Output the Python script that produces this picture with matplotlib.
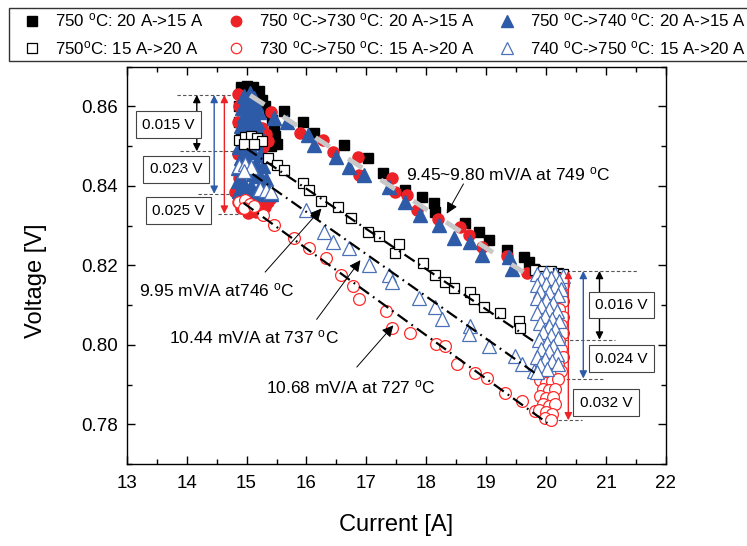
import matplotlib
matplotlib.use('Agg')
import matplotlib.pyplot as plt
from matplotlib.lines import Line2D
from matplotlib.ticker import MultipleLocator, FormatStrFormatter

plt.rcParams['font.family'] = ['Liberation Sans', 'DejaVu Sans']
plt.rcParams['mathtext.fontset'] = 'custom'
plt.rcParams['mathtext.rm'] = 'Liberation Sans'
plt.rcParams['mathtext.it'] = 'Liberation Sans:italic'
plt.rcParams['mathtext.bf'] = 'Liberation Sans:bold'

DEG = r'${}^{\mathrm{o}}$C'

# ---------------- data ----------------
# 750 C: 20 A -> 15 A (filled squares)
blk_fill_I = [14.90, 15.00, 15.10, 15.20, 14.95, 15.05, 15.15, 15.25, 15.30, 15.38, 15.42, 15.45, 15.48, 15.50, 15.40,
              14.88, 14.88, 14.90, 14.92,
              15.62, 15.94, 16.13, 16.63, 17.03, 17.28, 17.64, 17.92, 18.12, 18.15, 18.65, 18.88, 19.05, 19.35,
              19.63, 19.80, 19.72]
blk_fill_V = [0.8648, 0.8652, 0.8650, 0.8640, 0.8630, 0.8635, 0.8625, 0.8615, 0.8600, 0.8585, 0.8565, 0.8545, 0.8525,
              0.8505, 0.8500, 0.8600, 0.8560, 0.8520, 0.8495,
              0.8588, 0.8560, 0.8534, 0.8504, 0.8471, 0.8433, 0.8390, 0.8372, 0.8357, 0.8335, 0.8306, 0.8284, 0.8263,
              0.8238, 0.8222, 0.8192, 0.8208]

# 750 C -> 730 C: 20 A -> 15 A (filled circles)
red_fill_I = [14.85, 14.92, 14.88, 15.25, 15.32, 15.35, 15.28, 14.85, 14.85, 14.88, 14.80, 14.90, 15.00, 15.10, 15.20,
              15.30, 15.40, 14.85, 14.95, 15.05, 15.15, 15.25, 15.35, 14.90, 15.00, 15.10, 15.20, 15.30, 15.02, 15.15,
              15.40, 15.90, 16.27, 16.44, 16.86, 16.88, 17.42, 17.47, 17.67, 17.85, 18.20, 18.56, 18.71, 18.93,
              19.35, 19.68]
red_fill_V = [0.8632, 0.8620, 0.8600, 0.8545, 0.8530, 0.8512, 0.8498, 0.8560, 0.8480, 0.8420, 0.8385, 0.8375, 0.8370,
              0.8372, 0.8368, 0.8372, 0.8370, 0.8360, 0.8355, 0.8358, 0.8352, 0.8356, 0.8360, 0.8345, 0.8342, 0.8340,
              0.8345, 0.8348, 0.8332, 0.8335,
              0.8585, 0.8534, 0.8516, 0.8486, 0.8473, 0.8428, 0.8420, 0.8385, 0.8377, 0.8340, 0.8317, 0.8296, 0.8276,
              0.8246, 0.8223, 0.8182]

# 750 C -> 740 C: 20 A -> 15 A (filled triangles)
blu_fill_I = [15.05, 14.95, 15.12, 15.00, 15.15, 14.92, 15.08, 15.20, 14.95, 15.05, 15.18, 14.90, 15.00, 15.12, 15.22,
              14.92, 15.05, 15.15, 14.88, 15.00, 15.10, 15.22, 14.90, 15.02, 15.15, 15.28, 14.85, 14.98, 15.10, 15.22,
              15.32, 14.85, 14.95, 15.08, 15.20, 15.35, 14.88, 15.00, 15.15, 15.28, 15.40,
              15.45, 15.68, 16.02, 16.12, 16.49, 16.71, 16.96, 17.37, 17.64, 17.89, 18.22, 18.47, 18.73, 18.93,
              19.38, 19.43]
blu_fill_V = [0.8635, 0.8625, 0.8622, 0.8610, 0.8605, 0.8595, 0.8590, 0.8585, 0.8575, 0.8565, 0.8560, 0.8550, 0.8545,
              0.8538, 0.8530, 0.8522, 0.8515, 0.8508, 0.8498, 0.8490, 0.8485, 0.8478, 0.8470, 0.8462, 0.8455, 0.8450,
              0.8445, 0.8438, 0.8430, 0.8425, 0.8418, 0.8412, 0.8405, 0.8400, 0.8395, 0.8392, 0.8388, 0.8382, 0.8380,
              0.8385, 0.8380,
              0.8572, 0.8560, 0.8529, 0.8504, 0.8473, 0.8448, 0.8428, 0.8397, 0.8359, 0.8327, 0.8301, 0.8268, 0.8258,
              0.8225, 0.8222, 0.8192]

# 750 C: 15 A -> 20 A (open squares)
blk_open_I = [14.88, 14.98, 15.08, 15.18, 15.25, 14.95, 15.12,
              15.35, 15.50, 15.62, 15.94, 16.04, 16.24, 16.53, 16.74, 17.03, 17.21, 17.47, 17.55, 17.95, 18.14,
              18.31, 18.47, 18.73, 18.79, 18.96, 19.23, 19.55, 19.56,
              19.82, 19.95, 20.08, 20.20, 20.28, 19.90, 20.15]
blk_open_V = [0.8515, 0.8522, 0.8525, 0.8520, 0.8512, 0.8505, 0.8505,
              0.8471, 0.8452, 0.8440, 0.8408, 0.8390, 0.8362, 0.8347, 0.8319, 0.8284, 0.8274, 0.8232, 0.8254, 0.8205,
              0.8175, 0.8157, 0.8142, 0.8132, 0.8116, 0.8094, 0.8081, 0.8061, 0.8043,
              0.8188, 0.8185, 0.8186, 0.8182, 0.8178, 0.8172, 0.8170]

# 730 C -> 750 C: 15 A -> 20 A (open circles)
red_open_I = [14.88, 14.98, 15.05, 14.95, 15.12,
              15.28, 15.45, 15.79, 16.04, 16.32, 16.58, 16.78, 16.88, 17.33, 17.42, 17.72, 18.17, 18.31, 18.51,
              18.81, 19.01, 19.31, 19.60, 19.82,
              20.22, 20.28, 20.25, 20.28, 20.22, 20.28, 20.25, 20.28, 20.22, 20.25, 20.28, 20.20,
              19.95, 20.05, 20.15, 20.25, 19.90, 20.00, 20.10, 20.20, 19.95, 20.05, 20.15, 19.90, 20.00, 20.12,
              19.95, 20.05, 20.15, 19.88, 20.00, 20.10, 19.98, 20.08]
red_open_V = [0.8360, 0.8365, 0.8355, 0.8345, 0.8350,
              0.8327, 0.8301, 0.8268, 0.8243, 0.8218, 0.8175, 0.8149, 0.8116, 0.8086, 0.8043, 0.8030, 0.8003, 0.7997,
              0.7952, 0.7929, 0.7916, 0.7878, 0.7858, 0.7833,
              0.8165, 0.8150, 0.8130, 0.8110, 0.8090, 0.8070, 0.8050, 0.8030, 0.8010, 0.7990, 0.7970, 0.7950,
              0.7930, 0.7925, 0.7930, 0.7935, 0.7912, 0.7905, 0.7910, 0.7915, 0.7890, 0.7885, 0.7890, 0.7870,
              0.7865, 0.7868, 0.7850, 0.7845, 0.7850, 0.7835, 0.7830, 0.7825, 0.7815, 0.7812]

# 740 C -> 750 C: 15 A -> 20 A (open triangles)
blu_open_I = [14.88, 14.98, 15.08, 14.95, 15.22, 15.32, 15.40,
              15.99, 16.29, 16.44, 16.71, 17.05, 17.37, 17.42, 17.87, 18.14, 18.26, 18.73, 18.71, 19.05, 19.48,
              19.60, 19.80,
              19.85, 20.00, 20.15, 20.28, 19.92, 20.08, 20.22, 19.85, 20.00, 20.15, 20.25, 19.90, 20.05, 20.20,
              19.85, 20.00, 20.12, 19.92, 20.05, 20.18, 19.85, 19.98, 20.10, 20.22, 19.90, 20.05, 20.15, 19.95,
              20.08, 20.20, 19.88, 20.02, 20.12, 19.92, 20.05, 20.18, 19.85, 19.98, 20.10, 20.20, 19.90, 20.02,
              19.85]
blu_open_V = [0.8450, 0.8455, 0.8448, 0.8438, 0.8392, 0.8390, 0.8385,
              0.8339, 0.8284, 0.8258, 0.8243, 0.8200, 0.8175, 0.8157, 0.8119, 0.8094, 0.8066, 0.8048, 0.8028, 0.7997,
              0.7972, 0.7952, 0.7934,
              0.8178, 0.8180, 0.8178, 0.8172, 0.8165, 0.8168, 0.8160, 0.8150, 0.8152, 0.8148, 0.8140, 0.8135,
              0.8132, 0.8125, 0.8118, 0.8112, 0.8105, 0.8098, 0.8090, 0.8085, 0.8080, 0.8072, 0.8065, 0.8060,
              0.8055, 0.8048, 0.8040, 0.8032, 0.8025, 0.8018, 0.8012, 0.8005, 0.7998, 0.7990, 0.7985, 0.7978,
              0.7970, 0.7965, 0.7958, 0.7952, 0.7948, 0.7940, 0.7932]

# linear fits (end points)
fit_fill_I = [15.06, 19.62]
fit_fill_V = [0.8628, 0.8183]
fit_sq_I = [15.00, 19.85]
fit_sq_V = [0.8494, 0.8003]
fit_tri_I = [15.10, 19.85]
fit_tri_V = [0.8430, 0.7925]
fit_cir_I = [14.95, 20.02]
fit_cir_V = [0.8357, 0.7803]

x_ticks = [13, 14, 15, 16, 17, 18, 19, 20, 21, 22]
y_ticks = [0.78, 0.80, 0.82, 0.84, 0.86]

legend_labels = [
    '750 ' + DEG + ': 20 A->15 A',
    '750' + DEG + ': 15 A->20 A',
    '750 ' + DEG + '->730 ' + DEG + ': 20 A->15 A',
    '730 ' + DEG + '->750 ' + DEG + ': 15 A->20 A',
    '750 ' + DEG + '->740 ' + DEG + ': 20 A->15 A',
    '740 ' + DEG + '->750 ' + DEG + ': 15 A->20 A',
]

# ---------------- colours / styles ----------------
C_RED = '#ec2227'
C_BLUE = '#2d5ba8'
C_BLUE_O = '#4a70b8'
C_RED_O = '#ff2a2a'

W, H = 747, 546
fig = plt.figure(figsize=(W / 100, H / 100), dpi=100)
ax = fig.add_axes([126.7 / W, 1 - 464 / H, (666 - 126.7) / W, (464 - 66.7) / H])

ms_sq, ms_ci, ms_tr = 7.2, 8.0, 9.5
ax.plot(blk_fill_I, blk_fill_V, 's', color='black', ms=ms_sq, mec='black', zorder=3)
ax.plot(red_fill_I, red_fill_V, 'o', color=C_RED, ms=ms_ci, mec=C_RED, zorder=3)
ax.plot(blu_fill_I, blu_fill_V, '^', color=C_BLUE, ms=ms_tr, mec=C_BLUE, zorder=3)
ax.plot(blk_open_I, blk_open_V, 's', mfc='white', mec='black', mew=0.9, ms=ms_sq, zorder=4)
ax.plot(red_open_I, red_open_V, 'o', mfc='white', mec=C_RED_O, mew=0.9, ms=ms_ci + 0.5, zorder=4)
ax.plot(blu_open_I, blu_open_V, '^', mfc='white', mec=C_BLUE_O, mew=0.9, ms=ms_tr, zorder=5)

# fit lines
ax.plot(fit_fill_I, fit_fill_V, color='#c8c8c8', lw=3.5, linestyle=(0, (3.5, 4.5)),
        solid_capstyle='butt', zorder=6)
dd = (0, (5.5, 2.2, 0.8, 2.2))
for fi, fv in [(fit_sq_I, fit_sq_V), (fit_tri_I, fit_tri_V), (fit_cir_I, fit_cir_V)]:
    ax.plot(fi, fv, color='black', lw=1.6, linestyle=dd, zorder=6)

# axes
ax.set_xlim(13, 22)
ax.set_ylim(0.77, 0.87)
ax.set_xticks(x_ticks)
ax.set_yticks(y_ticks)
ax.yaxis.set_major_formatter(FormatStrFormatter('%.2f'))
ax.xaxis.set_minor_locator(MultipleLocator(0.5))
ax.yaxis.set_minor_locator(MultipleLocator(0.01))
ax.tick_params(which='both', direction='in', top=True, right=True, width=1.0, labelsize=13.5)
ax.tick_params(axis='x', pad=8)
ax.tick_params(axis='y', pad=6)
ax.tick_params(which='major', length=6)
ax.tick_params(which='minor', length=3.5)
for s in ax.spines.values():
    s.set_linewidth(1.0)
ax.set_xlabel('Current [A]', fontsize=17, labelpad=16)
ax.set_ylabel('Voltage [V]', fontsize=17)
ax.yaxis.set_label_coords(-0.147, 0.46)

# reference dashed levels + double arrows (left)
dash_kw = dict(color='#555555', lw=0.8, linestyle=(0, (3, 2)), zorder=2)
ax.plot([13.84, 14.85], [0.8629, 0.8629], **dash_kw)
ax.plot([13.89, 14.85], [0.8487, 0.8487], **dash_kw)
ax.plot([14.19, 14.85], [0.8380, 0.8380], **dash_kw)
ax.plot([14.53, 14.85], [0.8330, 0.8330], **dash_kw)


def darrow(x, y0, y1, color):
    ax.annotate('', xy=(x, y1), xytext=(x, y0),
                arrowprops=dict(arrowstyle='<|-|>', color=color, lw=1.0, mutation_scale=11,
                                shrinkA=0, shrinkB=0), zorder=7)


darrow(14.17, 0.8629, 0.8487, 'black')
darrow(14.46, 0.8629, 0.8380, C_BLUE)
darrow(14.63, 0.8629, 0.8330, C_RED)

# right side
ax.plot([19.78, 21.54], [0.8186, 0.8186], **dash_kw)
ax.plot([20.29, 21.15], [0.8013, 0.8013], **dash_kw)
ax.plot([19.96, 20.98], [0.7915, 0.7915], **dash_kw)
ax.plot([20.01, 20.60], [0.7810, 0.7810], **dash_kw)
darrow(20.37, 0.8186, 0.7810, C_RED)
darrow(20.62, 0.8186, 0.7915, C_BLUE)
darrow(20.89, 0.8186, 0.8013, 'black')

box_kw = dict(boxstyle='square,pad=0.42', fc='white', ec='#444444', lw=0.8)
for tx, ty, s in [(13.70, 0.8554, '0.015 V'), (13.82, 0.8442, '0.023 V'), (13.86, 0.8338, '0.025 V'),
                  (21.26, 0.8100, '0.016 V'), (21.26, 0.7965, '0.024 V'), (21.00, 0.7854, '0.032 V')]:
    ax.text(tx, ty, s, ha='center', va='center', fontsize=11, bbox=box_kw, zorder=8)

# slope annotations
arr_kw = dict(arrowstyle='-|>', color='black', lw=0.7, mutation_scale=17, shrinkA=0, shrinkB=0)
ax.text(19.36, 0.8429, '9.45~9.80 mV/A at 749 ' + DEG, ha='center', va='center', fontsize=12.5, zorder=8)
ax.annotate('', xy=(18.34, 0.8330), xytext=(18.62, 0.8405), arrowprops=arr_kw, zorder=8)
ax.text(14.51, 0.8137, '9.95 mV/A at746 ' + DEG, ha='center', va='center', fontsize=12.5, zorder=8)
ax.annotate('', xy=(16.25, 0.8343), xytext=(15.31, 0.8183), arrowprops=arr_kw, zorder=8)
ax.text(15.13, 0.8020, '10.44 mV/A at 737 ' + DEG, ha='center', va='center', fontsize=12.5, zorder=8)
ax.annotate('', xy=(16.90, 0.8213), xytext=(16.17, 0.8064), arrowprops=arr_kw, zorder=8)
ax.text(16.74, 0.7894, '10.68 mV/A at 727 ' + DEG, ha='center', va='center', fontsize=12.5, zorder=8)
ax.annotate('', xy=(17.45, 0.8049), xytext=(16.84, 0.7944), arrowprops=arr_kw, zorder=8)

# legend (row-wise: filled on top, open below)
handles = [
    Line2D([], [], marker='s', ls='none', color='black', ms=6.5),
    Line2D([], [], marker='s', ls='none', mfc='white', mec='black', mew=0.9, ms=6.5),
    Line2D([], [], marker='o', ls='none', color=C_RED, ms=7.5),
    Line2D([], [], marker='o', ls='none', mfc='white', mec=C_RED_O, mew=0.9, ms=7.5),
    Line2D([], [], marker='^', ls='none', color=C_BLUE, ms=8),
    Line2D([], [], marker='^', ls='none', mfc='white', mec=C_BLUE_O, mew=0.9, ms=8),
]
leg = fig.legend(handles, legend_labels, ncol=3, loc='upper left', bbox_to_anchor=(9 / W, 1 - 8 / H),
                 frameon=True, fancybox=False, edgecolor='#333333', framealpha=1, fontsize=12.2,
                 handlelength=2.3, handletextpad=0.2, columnspacing=0.75, borderpad=0.22,
                 labelspacing=0.55, borderaxespad=0)
leg.get_frame().set_linewidth(1.0)

fig.savefig('out.png', dpi=100)
